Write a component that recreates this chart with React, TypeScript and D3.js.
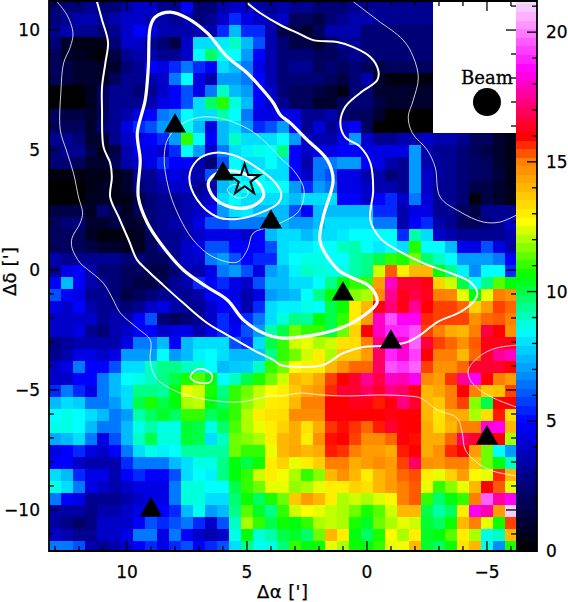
import * as d3 from "d3";

// map values, top row first. rows above the beam box stop at column 31
const row00_10 = [
  [2.5,2.5,2.5,3,2.5,2.5,3.5,4,4,3,3,5,2.5,2.5,3.5,4,4,3.5,3,3.5,3,3,2.5,2.5,2.5,3,3,3,3,3,3,3],
  [2.5,3,3.5,3.5,3,3.5,4,4,3.5,3.5,3,3.5,2.5,3,4,5.5,4.5,4,3.5,4,2,2,1.5,2.5,3,3.5,3.5,3,3,3,3,3],
  [3,3.5,3,3,2.5,3,4,5,4.5,3.5,3.5,3.5,3.5,3.5,5.5,7.5,5.5,5.5,3.5,1.5,1.5,1,2,3.5,3.5,3.5,2.5,2.5,2.5,2.5,2.5,2.5],
  [2.5,1,.5,.5,.5,2.5,4,4,3,2.5,1.5,4,8,8,8.2,9,7.5,6,3.5,2.5,1.5,1.5,1,2,3,3,2.5,2.5,2.5,2.5,2.5,2.5],
  [2,1,.8,.5,0,1.5,3,3.5,3.5,3,3,4,8.5,9.8,8.7,8.5,7,5,3.5,2.5,2.5,2.5,2,2,2.5,3,2.5,2.5,2.5,2.5,2.5,2.5],
  [2,1.5,1,1,.8,1,2.5,3,5,4.5,5.5,6.5,5.5,5,8,7.5,6.5,4.5,3.5,2.5,3,3,2,2.5,2,2.5,2,1.5,2,2,2,2],
  [2,1.5,1,1,.8,2,3,3,3.5,4,6.5,8.5,4.5,3.5,7,7,6.5,5,3.5,2.5,2.5,2.5,2.5,2,1.5,2.5,3.5,1,.3,.3,.3,.3],
  [0,0,0,.8,2,3,3,2.5,3,4,5,6,4.5,6.5,9,7.5,7,5,4,2.5,2,2,1.5,1,.5,2.5,2.5,1,1,1,1,1],
  [0,0,0,.8,2,3,3,3,3.5,4.5,5,6,8,9.8,10.9,8.8,7.5,5,4,3,2,2,1,1,2,2.5,2.5,1.5,1,1,1,1],
  [2,1.5,1.5,1,2,3,3.5,4.5,5,6.5,7,8.5,8,8,9.2,8.5,6.5,4.5,4.5,4.5,4.5,3,3,3.5,2.5,2,2,1,0,0,0,0],
  [2,2,2,1,2.5,3,4.5,5.5,6,7,7,8.7,7.5,4.5,7.5,8,7,5.5,6,7,5,3,4.3,3,4.2,5,2,0,0,0,0,0],
];

const row11_22 = [
  [3,3,2.5,1,1,3,4,4.5,5,5.5,7,11,8.5,5,7.5,9,8,8,8,8.5,7,4,3.5,3.5,4.5,7,4,3,3,3.5,3.5,4,3.5,3.5,3,2,2,1,.5],
  [2.5,3,3,1.5,.5,1.5,3.5,4.5,4.5,4,5.5,8.5,7,4,6.5,8,8.3,8.7,8.5,9.5,5,4,4.5,4.5,5,5,4.5,4.5,4.5,4.5,7,3.5,3,3,2.5,2,1.5,1,.5],
  [2.5,2.5,2,1,1,2,3.5,4,4.5,5.5,5,5,3.5,2.5,6,8.5,8,8,8.5,8,5,3.5,6.5,6.5,7,7,5,4.5,3.5,3,7,3.5,3.2,3,2.5,2.2,2,1,.5],
  [.3,.3,.3,.5,.5,.5,1,3,3,4,4.5,4,3.5,6,8.5,8.5,8,8.5,8,8,5,4,6.5,6,4.5,4.5,3.5,3.5,2.5,3,7,4,3.2,3,2.5,2.3,2,1.3,.5],
  [0,0,0,.5,.8,.5,1,2.5,3,3.5,4,4,3,3.5,7.5,8,8.5,8.5,8.5,8.5,7,5.5,7,6.5,4.5,4.5,4,3.5,3.5,3,7,4,3,3,2.5,1.5,1.5,1,.5],
  [0,0,0,.8,.8,.5,.5,1.5,2.5,3,3,3.5,3.5,4,8,8.5,8,8,8,8,7.5,8,8,8,5,5,4,5,5.5,4,6.5,4.3,3,3,2.5,.3,1.5,1,.5],
  [1.5,1.5,1.5,.8,2.5,1.5,.8,2,2.5,3,3,3.5,4,5,7,8,8.2,7.5,7.5,7.5,6,5,7.5,7.5,7.5,7.5,7.5,5.5,5.5,3.5,4.5,4.5,3,3,2,1.5,3,3,3],
  [2,2.5,2.5,1,1,1.5,1,1,2.5,3,3.5,3.5,4.5,6,6,6.5,6.5,6.5,6.5,7.5,7,7,7.5,8,8,8,8,6.5,6.5,3.5,5,5.5,3.5,3,2,2,2.5,3,4],
  [2,2,2,.8,.3,.3,.3,.8,2,3,3,3.5,4,4.5,4.5,4.5,4,5,7.5,8,8,7.5,8,8,8.2,8.5,8.5,8.5,8.5,5.5,9.2,8,4,3.5,3,3,3,3,3.5],
  [2,2,2,1.5,1,1,.7,.7,2,3,3,4,4.5,6,6,5,5,5,6,8,8.2,8.2,8.5,8.5,9,9.2,8.5,8.2,8.5,8,10.9,8.5,8.5,7.5,4.7,4.5,6,4.5,3.5],
  [3.5,3,3,3,3,3,2.5,2.5,2,2,3,4,4,6.5,7,6,5,5.5,5.5,8,8.5,8.7,8.7,8.5,8.5,9.2,9.5,10,11,10.8,11.5,9.7,9,8.5,7,7,7,6.5,5],
  [3,4.5,5,3.5,2.5,2.5,2,2,1.5,1.5,2.5,3.5,3.5,4.5,6.5,7,6,4.5,7,7.5,8.3,9,8.8,8.7,8.7,9.2,9.5,12.3,15.3,13,14,14,10.5,9.5,8.3,6.8,8.5,8.5,5.5],
];

const row23_34 = [
  [5,7.5,5,3.5,3,2.5,2,1.5,1.5,2,3,3.5,5.5,5,5.5,4.5,4,6,7.5,7.5,8,8,8.5,9.5,10.5,11,11,14.5,18,16.5,16.5,16.2,13.5,12.3,10,8.5,9.5,11.3,10.5],
  [6,5,4.5,3,3,2.5,1.5,2,2.5,3,3.2,3,3.5,5,5,4.5,3.5,4.5,7,7.3,7.5,8.5,9.5,10.5,10.5,11.7,12,14.8,17.5,16.3,16.7,16.3,15,14.9,12.5,10.5,12.5,15,14.7],
  [4.5,4,5,3.5,3,3,2.5,3,4,4.5,3.5,3,3,4,5,5,3.5,5.5,8,8.3,8.3,8.7,8.5,10,10.7,13,14,16.2,17.2,16.2,17.5,16,15.5,15.5,15.2,13.5,14.5,15.5,15.2],
  [4,4,4,4,3,3.5,3.5,5,6,2.5,2,2.5,3,4,5.5,4.5,5.5,6.5,8,8.8,9.5,9.3,10.5,10,11,13,14.5,18,19.5,18.5,18.5,15.7,15.5,15.5,15.5,14.7,15.2,15.3,15],
  [4,4,4.5,3,2.5,3.5,4,5,5,4,4.5,4.5,3.5,4.5,5.5,5,6,7,9.2,10,11.5,11,11,10,11.5,13.5,16,18,19,19,19.5,15.5,15,14.2,14,15,16.7,16,14.7],
  [2.8,3.2,3.5,3.5,3.5,3.5,4.5,6.5,6.5,7.5,5,7.5,8,8,8,6,5.5,8,10,11,12.3,12.5,12,12.3,13.2,13.3,15,17.3,18.7,18,19.7,16.6,15.5,15.2,14.7,15.3,16.2,16.3,16.2],
  [3,3.5,4.5,4.5,4,4.5,7,7,7,8.5,7,7.5,8.3,8.5,8,7.5,7.5,7.5,9.5,11,11.5,12.3,13,12,13.7,13.7,14.5,17,19,18.2,19.3,16,15,15,14,15.2,16.4,17.5,18],
  [4,4.5,6.5,5,5,6,8,8,9,9.5,9.5,9,9,8.5,7.5,7.7,7.8,9,11,11.5,12.7,13,13,14,14.7,15.2,15.2,17,19.5,19.2,19.7,15.5,14.7,14.7,15.2,16.5,16.5,16.5,16],
  [4,4,5,5,6.5,7.5,8.5,8.7,9,9.5,10,10.8,11.3,10.5,8.5,9,10,10.8,11.5,12.3,14,13.7,14.3,15.5,16,16.5,17.5,16.7,18,17.8,18.5,14.8,14.5,15.6,17.5,18.5,16,15,14.5],
  [5.5,6.5,5.5,4.5,6.5,7.5,8,9.5,9.5,9.3,10.5,12.5,12.3,10.8,9.5,11,11.5,12.2,12.7,13,13.7,14.3,14.6,15.7,16.5,16.5,17,16.5,17.3,17,16.2,14,14.3,15,16,15,13.7,13.8,15.5],
  [7.5,8,7.8,6.5,6.5,7,8,10,10.8,10,10.5,12,12.2,10.5,9.8,11,11.7,12.3,13,13.1,14,15,15,16,16,16.3,16.2,15.8,16.1,17.3,16.5,14,13.7,15,15.5,11.7,10,16,16],
  [8.5,8.7,8.5,8,7.5,6.5,7,9.2,9.8,10.3,9.8,11,11,9.8,10.3,11,12,13,13.2,13.3,14.8,14.8,14.8,16.1,16.1,16,16,16,16.2,16,16,14,13.2,14.2,14.2,12,13.3,15.8,13.3],
];

const row35_45 = [
  [8.7,8.7,8.5,7.5,6.5,6.5,7.5,8.7,9.2,8.7,8.7,10.2,10,8.7,9.7,11.2,12,12.5,13,13.5,14.2,13.2,14.2,15.6,15.9,15.6,15.2,15.8,16.5,16.1,16,14.2,13.3,14,15,15,18.2,18.5,14],
  [7.2,7.5,8,6.5,4.5,6,7.5,9,10,8.8,8.8,10.2,10,8,9,11.5,11.7,12,13,14,14.2,13,14.7,15.9,16,15.5,14.8,14.8,15.2,16.1,15.9,14.2,14.2,15.2,17,16.5,16,16,12],
  [4.5,5,5.5,4.5,4,5,6.5,8,8.7,8.3,8.5,9.3,9.3,9.3,9.3,11.5,11,11,12.5,14,14.3,14,14.2,15.8,15.6,15,14.5,14.5,14.2,15.8,16,14.2,14.7,15.7,16,14.5,11.5,8.5,7],
  [5,5,4,3.5,3.5,3.5,5.5,6.5,6.5,6.5,7.5,8,8.7,8.7,9.5,10.5,10,10.7,13,13.5,12.5,13,13.6,15,15,14.2,14.5,14.8,14.5,15.5,17,14.7,14.6,15,15,13.8,11.5,10.5,9],
  [8,7.5,5.5,4.5,4.5,3.5,5,5.5,5,5,6,8,8.5,8.3,9.5,10.5,11,12.3,13,12.6,12,11,11.7,14,14.7,14,13,14,14.5,15.2,15.4,13,12.5,13.5,14.5,12.8,12.5,15.7,14],
  [8.7,8,6.5,4.5,4,3.5,4,4.5,4.5,4.5,6.5,8.8,8.8,8.5,8.5,10,11,11.5,12.5,12.5,11.8,12,12.5,13,13,13.5,13.3,14,14.5,15,15.3,12.5,11,11.7,12.5,14,16,15.3,12.5],
  [6.5,5,4.5,3,3,3,3.5,4,4.5,4.5,6.5,8.8,8.8,8,8,9.7,10.7,9.8,10.8,11.5,13.7,14.5,14,13,12,12.3,12,12.4,12.8,15,15.3,11,9.7,10.5,11,15,19.7,17.7,18.5],
  [3.5,3.3,3.3,2.8,3.5,3.5,4,4.5,4.5,5,5.5,7.5,8.6,7,7.5,9.5,11.3,10.3,9.5,11,12.3,12.7,12.5,12.2,12,11.5,10.8,11.3,12.3,14,14,10,9.2,9.8,13,18.5,17.8,14.5,21],
  [3.3,2.8,2.2,2.7,4,4,4,5,6,5.5,6,6.5,5.5,4,6,9,12,11,10,10.7,10.5,11,12,12.2,12,10.8,10.3,11.5,12,12.5,12.3,10.2,9.8,10.7,14,15,12.5,10.7,15.5],
  [4,3.5,3,3,4,4,4.5,6.5,6.5,4.5,6.5,5,4,3.5,4,8.7,10.5,8.8,9.2,10,10.3,9.7,11.5,14,13,10.5,9.8,10.8,12.7,12,13,10.3,10.5,11.3,13,12,8.7,9,14],
  [6.5,6.5,6,3.5,3,3.5,4,5,5.5,4.5,5.5,6,5,5.5,6,8,9.5,8.6,8.7,9.6,11,10.5,10.7,12.5,12,10.7,10.5,11,12.5,12.6,14,10.2,9.8,10.7,13.2,14,8.7,6.8,10.8],
];

const mapRows = [...row00_10, ...row11_22, ...row23_34, ...row35_45];

// contours in arcmin, [dAlpha, dDelta]
const contourOuterLeft = [[12.92,11.18],[12.5,10.63],[12.25,9.88],[12.36,9.3],[12.64,8.63],[12.75,7.5],[12.78,5.83],[12.53,5],[12.23,4.04],[12.02,3.04],[11.85,2.38],[11.95,1.96],[12.29,1.33],[12.29,.92],[11.95,.29],[11.61,0],[10.99,-.54],[10.57,-1.25],[10.28,-1.79],[9.57,-2.42],[9.03,-2.92],[9.03,-3.75],[8.82,-4.46],[8.07,-5],[7.24,-5.29],[6.24,-5.46],[5.28,-5.5],[4.03,-5.25],[3.61,-5.25],[2.78,-5.13],[1.82,-5.21],[.82,-5.25],[-.55,-5.21],[-1.68,-5.25],[-2.22,-5.33],[-2.93,-5.83],[-3.76,-6.17],[-3.97,-6.79],[-4.1,-7.5],[-4.6,-8.04],[-5.26,-8.38],[-6.22,-8.58]];
const contourOuterRight = [[.57,11.18],[-.43,10.42],[-1.51,9.58],[-1.93,8.88],[-2.14,8],[-1.93,7.08],[-1.72,6.38],[-1.89,5.71],[-2.51,5],[-2.84,4.29],[-3.05,3.04],[-3.89,2.42],[-4.84,2],[-5.55,2],[-6.22,2.29]];
const contourEdge = [[-6.22,-3.13],[-5.26,-3.29],[-4.6,-3.67],[-4.22,-4.17],[-4.3,-4.58],[-4.6,-4.92],[-5.26,-5.33],[-6.22,-5.71]];
const contourMid = [[11.25,11.18],[11.04,10.42],[10.79,9.5],[10.9,8.63],[11.04,7.63],[11.04,6.67],[10.98,5.13],[10.7,4.46],[10.63,3.88],[10.7,3.04],[10.35,2.21],[9.93,1.25],[9.58,.42],[9.17,0],[8.49,-.63],[7.65,-1.38],[6.66,-2.21],[5.82,-2.71],[4.74,-3.33],[3.9,-3.75],[3.61,-3.96],[2.78,-4.04],[1.82,-3.96],[.99,-3.46],[.15,-3.21],[-.55,-3.17],[-.97,-3.13],[-1.68,-3],[-2.22,-2.71],[-2.93,-2.17],[-3.89,-1.75],[-4.43,-1.33],[-4.6,-.96],[-4.3,-.5],[-3.35,-.08],[-2.35,.29],[-1.1,.92],[-.55,1.33],[-.14,2.08],[-.26,3.33],[-.14,4.46],[.28,5.13],[.91,5.54],[1.11,6.13],[.91,6.79],[.28,7.38],[-.43,7.92],[-.47,8.33],[-.14,8.88],[.57,9.29],[1.24,9.5],[2.24,9.58],[2.9,9.88],[3.61,10.21],[4.45,10.71],[4.99,11.13]];
const contourThick = [[9.03,10.13],[8.82,10.54],[8.2,10.75],[7.49,10.5],[6.66,9.88],[5.82,8.88],[4.99,8.21],[4.45,7.63],[3.9,6.96],[3.61,6.46],[3.2,6.13],[2.49,5.42],[1.65,4.58],[1.41,3.75],[1.82,2.21],[1.95,1.17],[1.2,0],[.7,-.29],[-.14,-.71],[-.43,-1.33],[-.01,-1.79],[.99,-2.38],[1.82,-2.63],[2.78,-2.79],[3.61,-2.83],[4.32,-2.63],[5.15,-2.08],[5.82,-1.25],[6.66,-.71],[7.65,0],[8.49,.96],[9.15,1.96],[9.53,3.04],[9.45,4.58],[9.57,5.71],[9.24,7.08],[9.11,8.46]];
const contourInner = [[6.82,6.38],[7.65,6.13],[8.28,5.5],[8.45,4.71],[8.28,3.46],[7.9,2.38],[7.24,1.25],[6.4,.54],[5.41,.33],[4.99,.83],[4.74,1.54],[4.03,1.79],[3.61,1.96],[2.9,2.38],[2.65,2.92],[2.65,3.46],[3.07,4.17],[3.61,4.67],[3.9,5],[4.74,5.75],[5.82,6.25]];
const contourPeak1 = [[6.4,4.88],[7.07,4.58],[7.4,3.88],[7.07,2.92],[6.24,2.21],[5.41,2.13],[4.45,2.38],[3.7,2.79],[3.57,3.13],[3.74,3.54],[4.45,4.17],[5.57,4.79]];
const contourPeak2 = [[5.57,4.13],[6.24,4.04],[6.61,3.63],[6.4,3.04],[5.7,2.63],[4.86,2.63],[4.32,3.04],[4.45,3.54],[4.99,3.96]];
const contourPeak3 = [[5.61,3.54],[5.82,3.33],[5.49,3.04],[5.07,3.04],[4.95,3.25],[5.28,3.54]];
const contourSouth = [[7.36,-4.46],[7.15,-4.17],[6.82,-4.13],[6.45,-4.38],[6.53,-4.67],[6.95,-4.71],[7.28,-4.58]];

const triangles = [[8,6],[6,4],[4,2],[1,-1],[-1,-3],[-5,-7],[9,-10]];
const starPos = [5.1,3.75];
const beamPos = [-5,7];

const xLabels = [10,5,0,-5];
const yLabels = [10,5,0,-5,-10];
const barLabels = [0,5,10,15,20];
const colorStops = [0,2.4,5,6.6,8.5,10.6,12.7,15,16,18.6,20.6,21.2];
const colorValues = ["#000000","#000070","#0000ff","#0080ff","#00ffff","#00ff00","#ffff00","#ff8000","#ff0000","#ff00ff","#ffb0ff","#eeddf8"];

const left = 49, right = 516, top = 1, bottom = 551;
const barRight = 537;
const fmt = (v: number) => String(v).replace("-", "\u2212");

export default function App() {
  const x = d3.scaleLinear().domain([13.25, -6.21]).range([left, right]);
  const y = d3.scaleLinear().domain([11.21, -11.71]).range([top, bottom]);
  const col = d3.scaleBand<number>().domain(d3.range(39)).range([left, left + 39 * 12]);
  const row = d3.scaleBand<number>().domain(d3.range(46)).range([top, top + 46 * 12]);
  const color = d3.scaleLinear<string>().domain(colorStops).range(colorValues).clamp(true);
  const bar = d3.scaleLinear().domain([0, 21.2]).range([bottom, top]);

  const open = d3.line().x((d) => x(d[0])).y((d) => y(d[1])).curve(d3.curveCatmullRom);
  const closed = d3.line().x((d) => x(d[0])).y((d) => y(d[1])).curve(d3.curveCatmullRomClosed);

  const steps = d3.range(0, 21.2, 0.33);
  const xMinor = d3.range(-6, 14);
  const yMinor = d3.range(-11, 12);
  const barMinor = d3.range(0, 22);

  const tick = { stroke: "#000", strokeWidth: 1.3 };
  const label = { fontFamily: "'DejaVu Sans', sans-serif", fontSize: 17, fill: "#000", stroke: "#000", strokeWidth: 0.25 };

  return (
    <svg width={568} height={602} style={{ position: "absolute", left: 0, top: 0 }}>
      <defs>
        <clipPath id="frame">
          <rect x={left} y={top} width={right - left} height={bottom - top} />
        </clipPath>
      </defs>
      <g clipPath="url(#frame)" shapeRendering="crispEdges">
        {mapRows.map((cells, r) =>
          cells.map((v, c) => (
            <rect key={r + "-" + c} x={col(c)} y={row(r)} width={12} height={12} fill={color(v)} />
          ))
        )}
      </g>

      <g shapeRendering="crispEdges">
        {steps.map((v) => (
          <rect key={v} x={right} y={bar(v + 0.33)} width={barRight - right} height={bar(v) - bar(v + 0.33) + 0.5} fill={color(v + 0.16)} />
        ))}
      </g>

      <g clipPath="url(#frame)" fill="none" stroke="#fff" strokeLinejoin="round">
        <path d={open(contourOuterLeft)} strokeWidth={0.8} />
        <path d={open(contourOuterRight)} strokeWidth={0.8} />
        <path d={open(contourEdge)} strokeWidth={0.8} />
        <path d={closed(contourInner)} strokeWidth={0.8} />
        <path d={closed(contourPeak3)} strokeWidth={0.8} />
        <path d={closed(contourSouth)} strokeWidth={1.6} />
        <path d={open(contourMid)} strokeWidth={2} />
        <path d={closed(contourPeak1)} strokeWidth={2} />
        <path d={closed(contourThick)} strokeWidth={3.2} />
        <path d={closed(contourPeak2)} strokeWidth={3.2} />
      </g>

      {triangles.map((d) => (
        <path key={d.join()} transform={`translate(${x(d[0])},${y(d[1])})`} d={d3.symbol(d3.symbolTriangle, 215)()} fill="#000" />
      ))}
      <path transform={`translate(${x(starPos[0])},${y(starPos[1])})`} d={d3.symbol(d3.symbolStar, 290)()} fill="none" stroke="#000" strokeWidth={2} />

      {/* beam */}
      <circle cx={x(beamPos[0])} cy={y(beamPos[1])} r={14} fill="#000" />
      <text x={487} y={84} textAnchor="middle" fontFamily="'DejaVu Serif', serif" fontSize={18} fill="#000" stroke="#000" strokeWidth={0.3} textLength={52} lengthAdjust="spacingAndGlyphs">Beam</text>

      {/* frame and ticks */}
      <g {...tick}>
        {xMinor.map((v) => {
          const len = v % 5 === 0 ? 10 : 5;
          return (
            <g key={v}>
              <line x1={x(v)} x2={x(v)} y1={bottom} y2={bottom - len} />
              <line x1={x(v)} x2={x(v)} y1={top} y2={top + len} />
            </g>
          );
        })}
        {yMinor.map((v) => {
          const len = v % 5 === 0 ? 10 : 5;
          return (
            <g key={v}>
              <line x1={left} x2={left + len} y1={y(v)} y2={y(v)} />
              <line x1={right} x2={right - len} y1={y(v)} y2={y(v)} />
            </g>
          );
        })}
        {barMinor.map((v) => (
          <line key={v} x1={barRight} x2={barRight - (v % 5 === 0 ? 10 : 5)} y1={bar(v)} y2={bar(v)} />
        ))}
      </g>
      <path d={`M${left},${top}H${barRight}V${bottom}H${left}Z`} fill="none" stroke="#000" strokeWidth={1.8} />

      {xLabels.map((v) => (
        <text key={v} x={x(v)} y={578} textAnchor="middle" {...label}>{fmt(v)}</text>
      ))}
      {yLabels.map((v) => (
        <text key={v} x={40} y={y(v) + 6} textAnchor="end" {...label}>{fmt(v)}</text>
      ))}
      {barLabels.map((v) => (
        <text key={v} x={546} y={bar(v) + 6} {...label}>{v}</text>
      ))}
      <text x={257} y={598} {...label} fontSize={18} textLength={51}>{"\u0394\u03b1  [']"}</text>
      <text transform="translate(16,296) rotate(-90)" {...label} fontSize={18} textLength={49}>{"\u0394\u03b4  [']"}</text>
    </svg>
  );
}
